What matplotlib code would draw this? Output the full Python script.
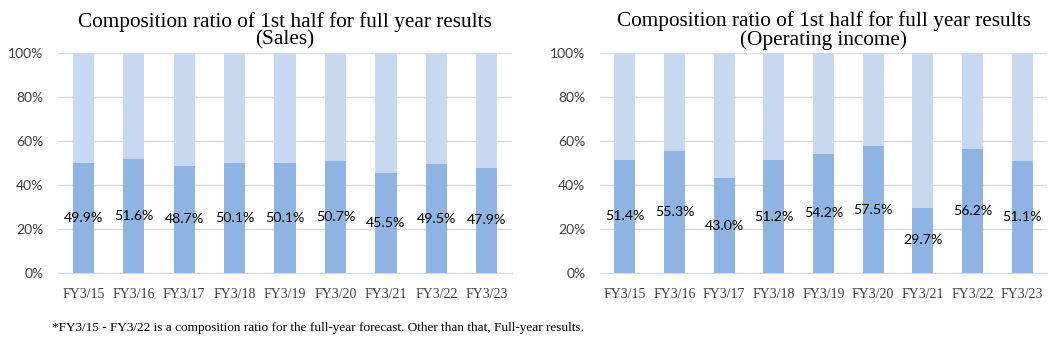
import matplotlib.pyplot as plt
from matplotlib.ticker import PercentFormatter

# categories and values (first half share of full year, %)
years = ["FY3/15", "FY3/16", "FY3/17", "FY3/18", "FY3/19",
         "FY3/20", "FY3/21", "FY3/22", "FY3/23"]
sales_1h = [49.9, 51.6, 48.7, 50.1, 50.1, 50.7, 45.5, 49.5, 47.9]
opinc_1h = [51.4, 55.3, 43.0, 51.2, 54.2, 57.5, 29.7, 56.2, 51.1]

titles = ["Composition ratio of 1st half for full year results\n(Sales)",
          "Composition ratio of 1st half for full year results\n(Operating income)"]
note = ("*FY3/15 - FY3/22 is a composition ratio for the full-year forecast. "
        "Other than that, Full-year results.")

dark = "#8EB4E3"
light = "#C6D9F1"
grid = "#D9D9D9"

fig = plt.figure(figsize=(10.63, 3.43), dpi=100)
ax1 = fig.add_axes([0.0546, 0.2041, 0.4271, 0.6414])
ax2 = fig.add_axes([0.5644, 0.2041, 0.4205, 0.6414])

for ax, vals, title in [(ax1, sales_1h, titles[0]), (ax2, opinc_1h, titles[1])]:
    x = range(len(years))
    rest = [100 - v for v in vals]
    ax.bar(x, vals, width=0.42, color=dark, zorder=3)
    ax.bar(x, rest, width=0.42, bottom=vals, color=light, zorder=3)
    for i, v in enumerate(vals):
        ax.text(i, v / 2, f"{v:.1f}%", ha="center", va="center",
                fontsize=10.2, family="Lato", color="black", zorder=4)

    ax.set_xlim(-0.5, len(years) - 0.5)
    ax.set_ylim(0, 100)
    ax.set_yticks([0, 20, 40, 60, 80, 100])
    ax.yaxis.set_major_formatter(PercentFormatter(decimals=0))
    ax.set_xticks(list(x))
    ax.set_xticklabels(years, family="Liberation Serif", fontsize=10, color="#404040")
    for lab in ax.get_yticklabels():
        lab.set_family("Lato")
        lab.set_fontsize(10)
        lab.set_color("#404040")
    ax.tick_params(axis="both", length=0)
    ax.tick_params(axis="y", pad=10.5)
    ax.tick_params(axis="x", pad=11)
    ax.grid(axis="y", color=grid, linewidth=1, zorder=0)
    for s in ["top", "right", "left"]:
        ax.spines[s].set_visible(False)
    ax.spines["bottom"].set_color(grid)
    ax.set_title(title, family="Liberation Serif", fontsize=15.3,
                 color="black", pad=6, linespacing=0.92)

fig.text(0.049, 0.034, note, family="Liberation Serif", fontsize=9.5, color="black")

fig.savefig("out.png", dpi=100)
